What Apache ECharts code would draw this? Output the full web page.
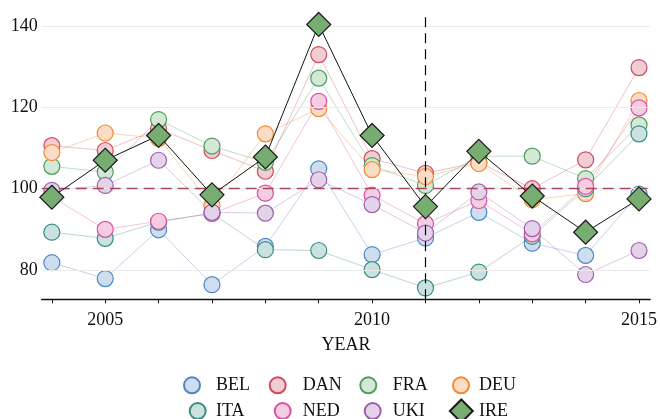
<!DOCTYPE html>
<html>
<head>
<meta charset="utf-8">
<script src="https://cdn.jsdelivr.net/npm/echarts@6/dist/echarts.min.js"></script>
<style>
html,body{margin:0;padding:0;background:#fff;}
#chart{width:660px;height:419px;}
</style>
</head>
<body>
<div id="chart"></div>
<script>
var years = [2004, 2005, 2006, 2007, 2008, 2009, 2010, 2011, 2012, 2013, 2014, 2015];
var BEL = [81.8, 77.9, 89.9, 76.4, 85.8, 104.9, 83.8, 87.9, 94.2, 86.6, 83.6, 98.7];
var DAN = [110.6, 109.4, 114.8, 109.4, 104.3, 133.0, 107.4, 103.8, 106.5, 100.0, 107.1, 129.8];
var FRA = [105.5, 104.1, 117.0, 110.5, 106.5, 127.2, 105.7, 100.8, 108.0, 108.0, 102.5, 115.7];
var DEU = [108.9, 113.7, 112.4, 95.9, 113.5, 119.7, 104.7, 103.0, 106.2, 97.3, 98.8, 121.7];
var ITA = [89.3, 87.8, 91.8, 94.0, 85.0, 84.8, 80.1, 75.6, 79.5, 88.3, 100.0, 113.5];
var NED = [98.0, 90.0, 92.0, 93.9, 98.9, 121.5, 98.4, 91.4, 97.1, 88.9, 100.6, 119.9];
var UKI = [99.6, 100.8, 107.0, 94.2, 94.0, 102.2, 96.1, 89.1, 99.2, 90.2, 78.9, 84.8];
var IRE = [97.9, 107.0, 113.1, 98.5, 107.8, 140.4, 113.1, 95.6, 109.2, 98.2, 89.3, 97.5];

var yTicks = [80, 100, 120, 140];
var xTicks = years;
var xLabels = [2005, 2010, 2015];
var refY = 100;
var refX = 2011;

var FONT = '"Liberation Serif", "Times New Roman", serif';

function zip(vals) { return years.map(function (y, i) { return [y, vals[i]]; }); }

var styles = {
  BEL: { stroke: '#4e86c6', fill: '#cfdeef', line: 'rgba(78,134,198,0.35)' },
  DAN: { stroke: '#cf4a5c', fill: '#efcdd3', line: 'rgba(207,74,92,0.35)' },
  FRA: { stroke: '#4f9e5b', fill: '#d4e8d7', line: 'rgba(79,158,91,0.35)' },
  DEU: { stroke: '#f28a30', fill: '#fcdcc4', line: 'rgba(242,138,48,0.35)' },
  ITA: { stroke: '#3a8d83', fill: '#cae2df', line: 'rgba(58,141,131,0.35)' },
  NED: { stroke: '#de4fa0', fill: '#f4cde3', line: 'rgba(222,79,160,0.35)' },
  UKI: { stroke: '#9d5fb1', fill: '#e3d2e8', line: 'rgba(157,95,177,0.35)' }
};
var seriesData = { BEL: BEL, DAN: DAN, FRA: FRA, DEU: DEU, ITA: ITA, NED: NED, UKI: UKI };
var names = ['BEL', 'DAN', 'FRA', 'DEU', 'ITA', 'NED', 'UKI'];

var series = names.map(function (n) {
  var s = styles[n];
  return {
    name: n, type: 'line', data: zip(seriesData[n]),
    symbol: 'circle', symbolSize: 16,
    lineStyle: { color: s.line, width: 1 },
    itemStyle: { color: s.fill, borderColor: s.stroke, borderWidth: 1.2, opacity: 1 },
    emphasis: { disabled: true }, animation: false, z: 2
  };
});
series[0].markLine = {
  silent: true, symbol: 'none', label: { show: false }, animation: false,
  lineStyle: { color: '#ebebeb', type: 'solid', width: 1 },
  data: yTicks.map(function (v) { return { yAxis: v }; })
};
series[1].markLine = {
  silent: true, symbol: 'none', label: { show: false }, animation: false,
  lineStyle: { color: '#a8475c', type: [11, 6], width: 1.3 },
  data: [{ yAxis: refY }]
};
series.push({
  name: 'IRE', type: 'line', data: zip(IRE),
  symbol: 'diamond', symbolSize: [24, 24],
  lineStyle: { color: '#111', width: 1 },
  itemStyle: { color: '#78ad72', borderColor: '#1a1a1a', borderWidth: 1.2 },
  emphasis: { disabled: true }, animation: false, z: 5,
  markLine: {
    silent: true, symbol: 'none', label: { show: false }, animation: false,
    lineStyle: { color: '#000', type: [10, 6], width: 1.2 },
    data: [{ xAxis: refX }]
  }
});

var legendPos = [
  { n: 'BEL', cx: 191, cy: 384.3, tx: 215 },
  { n: 'DAN', cx: 276.7, cy: 384.3, tx: 301.7 },
  { n: 'FRA', cx: 367.3, cy: 384.3, tx: 391.7 },
  { n: 'DEU', cx: 460, cy: 384.3, tx: 478 },
  { n: 'ITA', cx: 196.7, cy: 410, tx: 215 },
  { n: 'NED', cx: 281.7, cy: 410, tx: 301.7 },
  { n: 'UKI', cx: 371.7, cy: 410, tx: 391.7 },
  { n: 'IRE', cx: 460.3, cy: 410, tx: 478 }
];
var legends = legendPos.map(function (p) {
  var sz = p.n === 'IRE' ? 23 : 16;
  var left = p.cx - sz / 2;
  var pad = p.tx - (left + sz + 5);
  return {
    data: [{ name: p.n, icon: p.n === 'IRE' ? 'diamond' : 'circle' }],
    left: left, top: p.cy - sz / 2,
    itemWidth: sz, itemHeight: sz, padding: 0,
    selectedMode: false,
    textStyle: { fontFamily: FONT, fontSize: 18, color: '#111', padding: [0, 0, 0, pad], lineHeight: 16 }
  };
});

var chart = echarts.init(document.getElementById('chart'), null, { renderer: 'canvas' });
chart.setOption({
  backgroundColor: '#fff',
  animation: false,
  legend: legends,
  grid: { left: 41.7, right: 8.3, top: 13.9, bottom: 119.7, containLabel: false },
  xAxis: {
    type: 'value', min: 2003.81, max: 2015.21,
    name: 'YEAR', nameLocation: 'middle', nameGap: 37,
    nameTextStyle: { fontFamily: FONT, fontSize: 18, color: '#111' },
    axisLine: { show: true, lineStyle: { color: '#111', width: 1.3 } },
    axisTick: { show: true, length: 4, customValues: xTicks, lineStyle: { color: '#111' } },
    axisLabel: { customValues: xLabels, margin: 12, fontFamily: FONT, fontSize: 18, color: '#111', formatter: function (v) { return String(v); } },
    splitLine: { show: false }
  },
  yAxis: {
    type: 'value', min: 72.8, max: 143,
    axisLine: { show: false },
    axisTick: { show: false },
    axisLabel: { customValues: yTicks, margin: 4, fontFamily: FONT, fontSize: 18, color: '#111' },
    splitLine: { show: false }
  },
  series: series
});
</script>
</body>
</html>
